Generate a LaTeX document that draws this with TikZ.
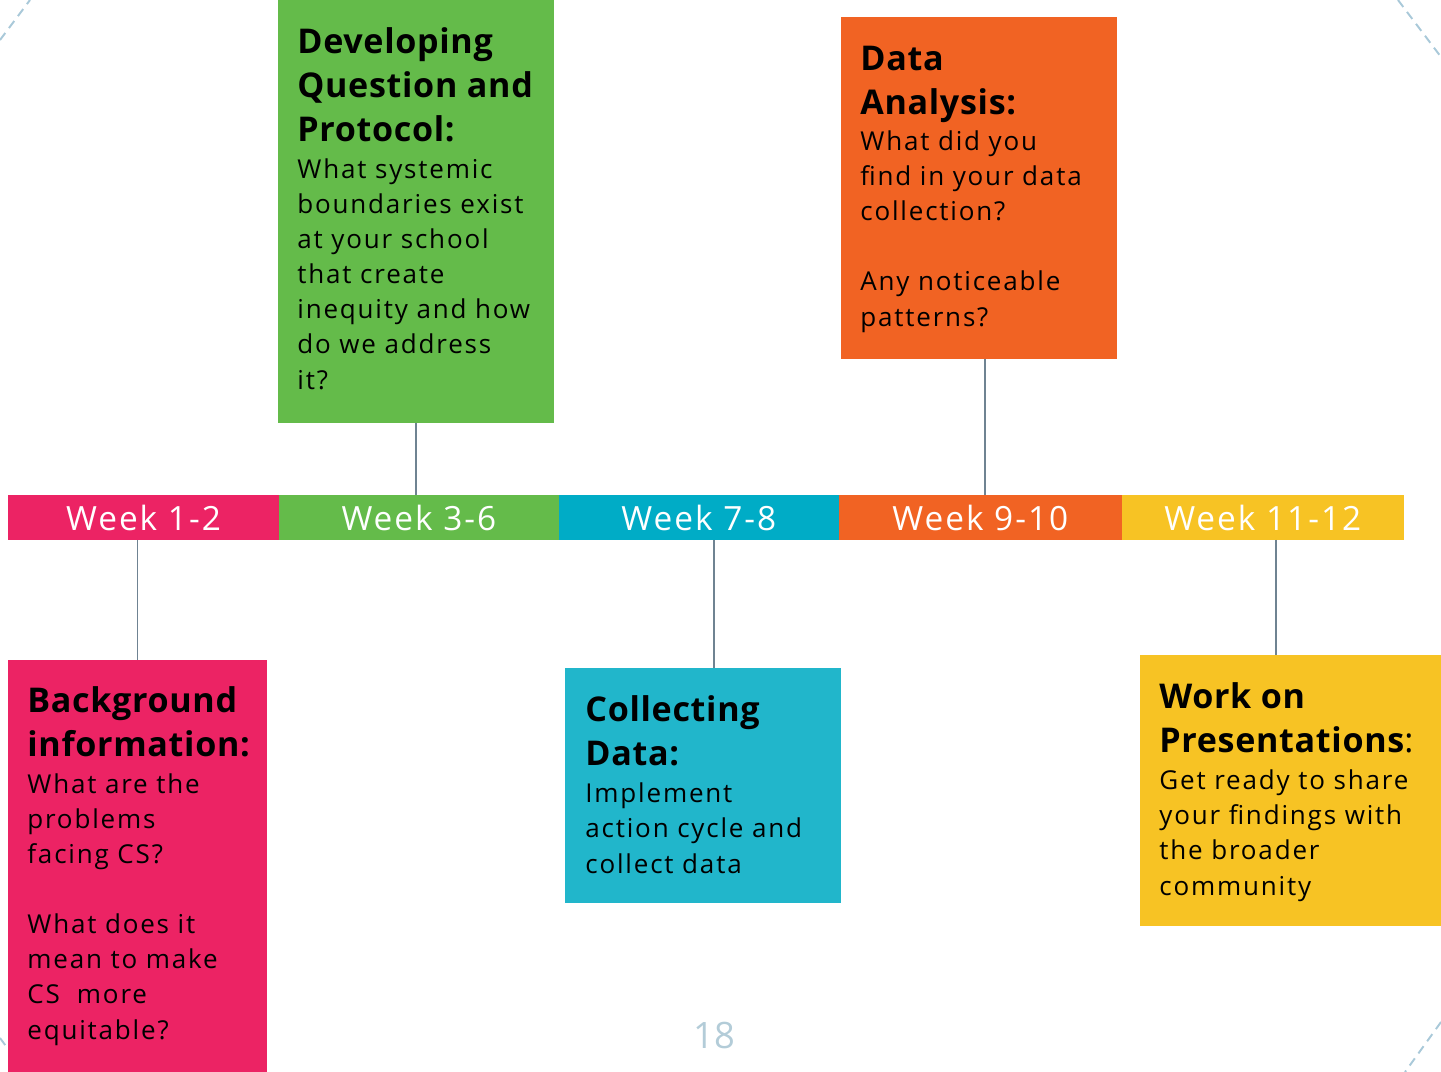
\documentclass[tikz,border=0pt]{standalone}
\usepackage{fontspec}
\setmainfont{Open Sans}
\newfontfamily\bodyfam{Open Sans}[LetterSpace=7]
\newfontfamily\ttlfam{Open Sans}[LetterSpace=2]
\newfontfamily\weekfam{Open Sans}[LetterSpace=6]
\usepackage{tikz}
\usetikzlibrary{positioning}
\definecolor{pinkc}{HTML}{EC2364}
\definecolor{greenc}{HTML}{64BB4A}
\definecolor{cyanbar}{HTML}{00ACC6}
\definecolor{cyanc}{HTML}{21B6CB}
\definecolor{orangec}{HTML}{F16323}
\definecolor{yellowc}{HTML}{F7C324}
\definecolor{linkc}{HTML}{6F8392}
\definecolor{dashc}{HTML}{A9C9D9}
\definecolor{pagec}{HTML}{B3CCD8}
\newcommand{\ttlfont}{\ttlfam\fontsize{19.4}{25}\selectfont\bfseries}
\newcommand{\txtfont}{\bodyfam\fontsize{14.8}{20}\selectfont}
\newcommand{\weekfont}{\weekfam\fontsize{19}{22}\selectfont}
\tikzstyle{box}=[anchor=north west, inner sep=0, outer sep=0]
\tikzstyle{week}=[minimum height=0.9cm, inner sep=0, outer sep=0, text=white,
                  font=\weekfont]
\tikzstyle{ttl}=[anchor=base west, align=left, inner sep=0, font=\ttlfont]
\tikzstyle{txt}=[anchor=base west, align=left, inner sep=0, font=\txtfont]
\tikzstyle{link}=[draw=linkc, line width=1.1pt]
\tikzstyle{corner}=[draw=dashc, line width=1.1pt, dash pattern=on 5pt off 3.5pt]

\begin{document}
\begin{tikzpicture}[x=0.02cm, y=-0.02cm]
  \useasboundingbox (0,0) rectangle (1441,1072);
  \coordinate (tl1) at (0,40);      \coordinate (tl2) at (30,0);
  \coordinate (tr1) at (1398,0);    \coordinate (tr2) at (1441,57);
  \coordinate (br1) at (1441,1022); \coordinate (br2) at (1405,1072);
  \coordinate (bl1) at (0,1038);    \coordinate (bl2) at (25,1072);
  \draw[corner] (tl1) -- (tl2);
  \draw[corner] (tr1) -- (tr2);
  \draw[corner] (br1) -- (br2);
  \draw[corner] (bl1) -- (bl2);

  \node[week, fill=pinkc, anchor=north west, minimum width=5.42cm] (w1) at (8,495) {Week 1-2};
  \node[week, fill=greenc, right=0pt of w1, minimum width=5.60cm] (w2) {Week 3-6};
  \node[week, fill=cyanbar, right=0pt of w2, minimum width=5.60cm] (w3) {Week 7-8};
  \node[week, fill=orangec, right=0pt of w3, minimum width=5.66cm] (w4) {Week 9-10};
  \node[week, fill=yellowc, right=0pt of w4, minimum width=5.64cm] (w5) {Week 11-12};

  \node[box, fill=greenc, minimum width=5.52cm, minimum height=8.46cm] (gbox) at (278,0) {};
  \node[box, fill=orangec, minimum width=5.52cm, minimum height=6.84cm] (obox) at (841,17) {};
  \node[box, fill=pinkc, minimum width=5.18cm, minimum height=8.24cm] (pbox) at (8,660) {};
  \node[box, fill=cyanc, minimum width=5.52cm, minimum height=4.70cm] (cbox) at (565,668) {};
  \node[box, fill=yellowc, minimum width=6.02cm, minimum height=5.42cm] (ybox) at (1140,655) {};

  \node[ttl] (gttl) at (297,141) {Developing\\Question and\\Protocol:};
  \node[txt] (gtxt) at (297,389) {What systemic\\boundaries exist\\at your school\\that create\\inequity and how\\do we address\\it?};
  \node[ttl] (ottl) at (860,114) {Data\\Analysis:};
  \node[txt] (otxt) at (860,326) {What did you\\find in your data\\collection?\\[0.7cm]Any noticeable\\patterns?};
  \node[ttl] (pttl) at (27,756) {Background\\information:};
  \node[txt] (ptxt) at (27,1039) {What are the\\problems\\facing CS?\\[0.7cm]What does it\\mean to make\\CS~~more\\equitable?};
  \node[ttl] (cttl) at (585,765) {Collecting\\Data:};
  \node[txt] (ctxt) at (585,873) {Implement\\action cycle and\\collect data};
  \node[ttl] (yttl) at (1159,752) {Work on\\Presentations{\mdseries:}};
  \node[txt] (ytxt) at (1159,895) {Get ready to share\\your findings with\\the broader\\community};

  \draw[link] (gbox.south) -- (gbox.south |- w2.north);
  \draw[link] ([xshift=0.12cm]obox.south) -- ([xshift=0.12cm]obox.south |- w4.north);
  \draw[link] (w1.south -| pbox.north) -- (pbox.north);
  \draw[link] ([xshift=0.22cm]cbox.north |- w3.south) -- ([xshift=0.22cm]cbox.north);
  \draw[link] ([xshift=-0.29cm]ybox.north |- w5.south) -- ([xshift=-0.29cm]ybox.north);

  \node[text=pagec, font=\fontsize{20.7}{24}\selectfont] (page) at (714,1035) {18};
\end{tikzpicture}
\end{document}
